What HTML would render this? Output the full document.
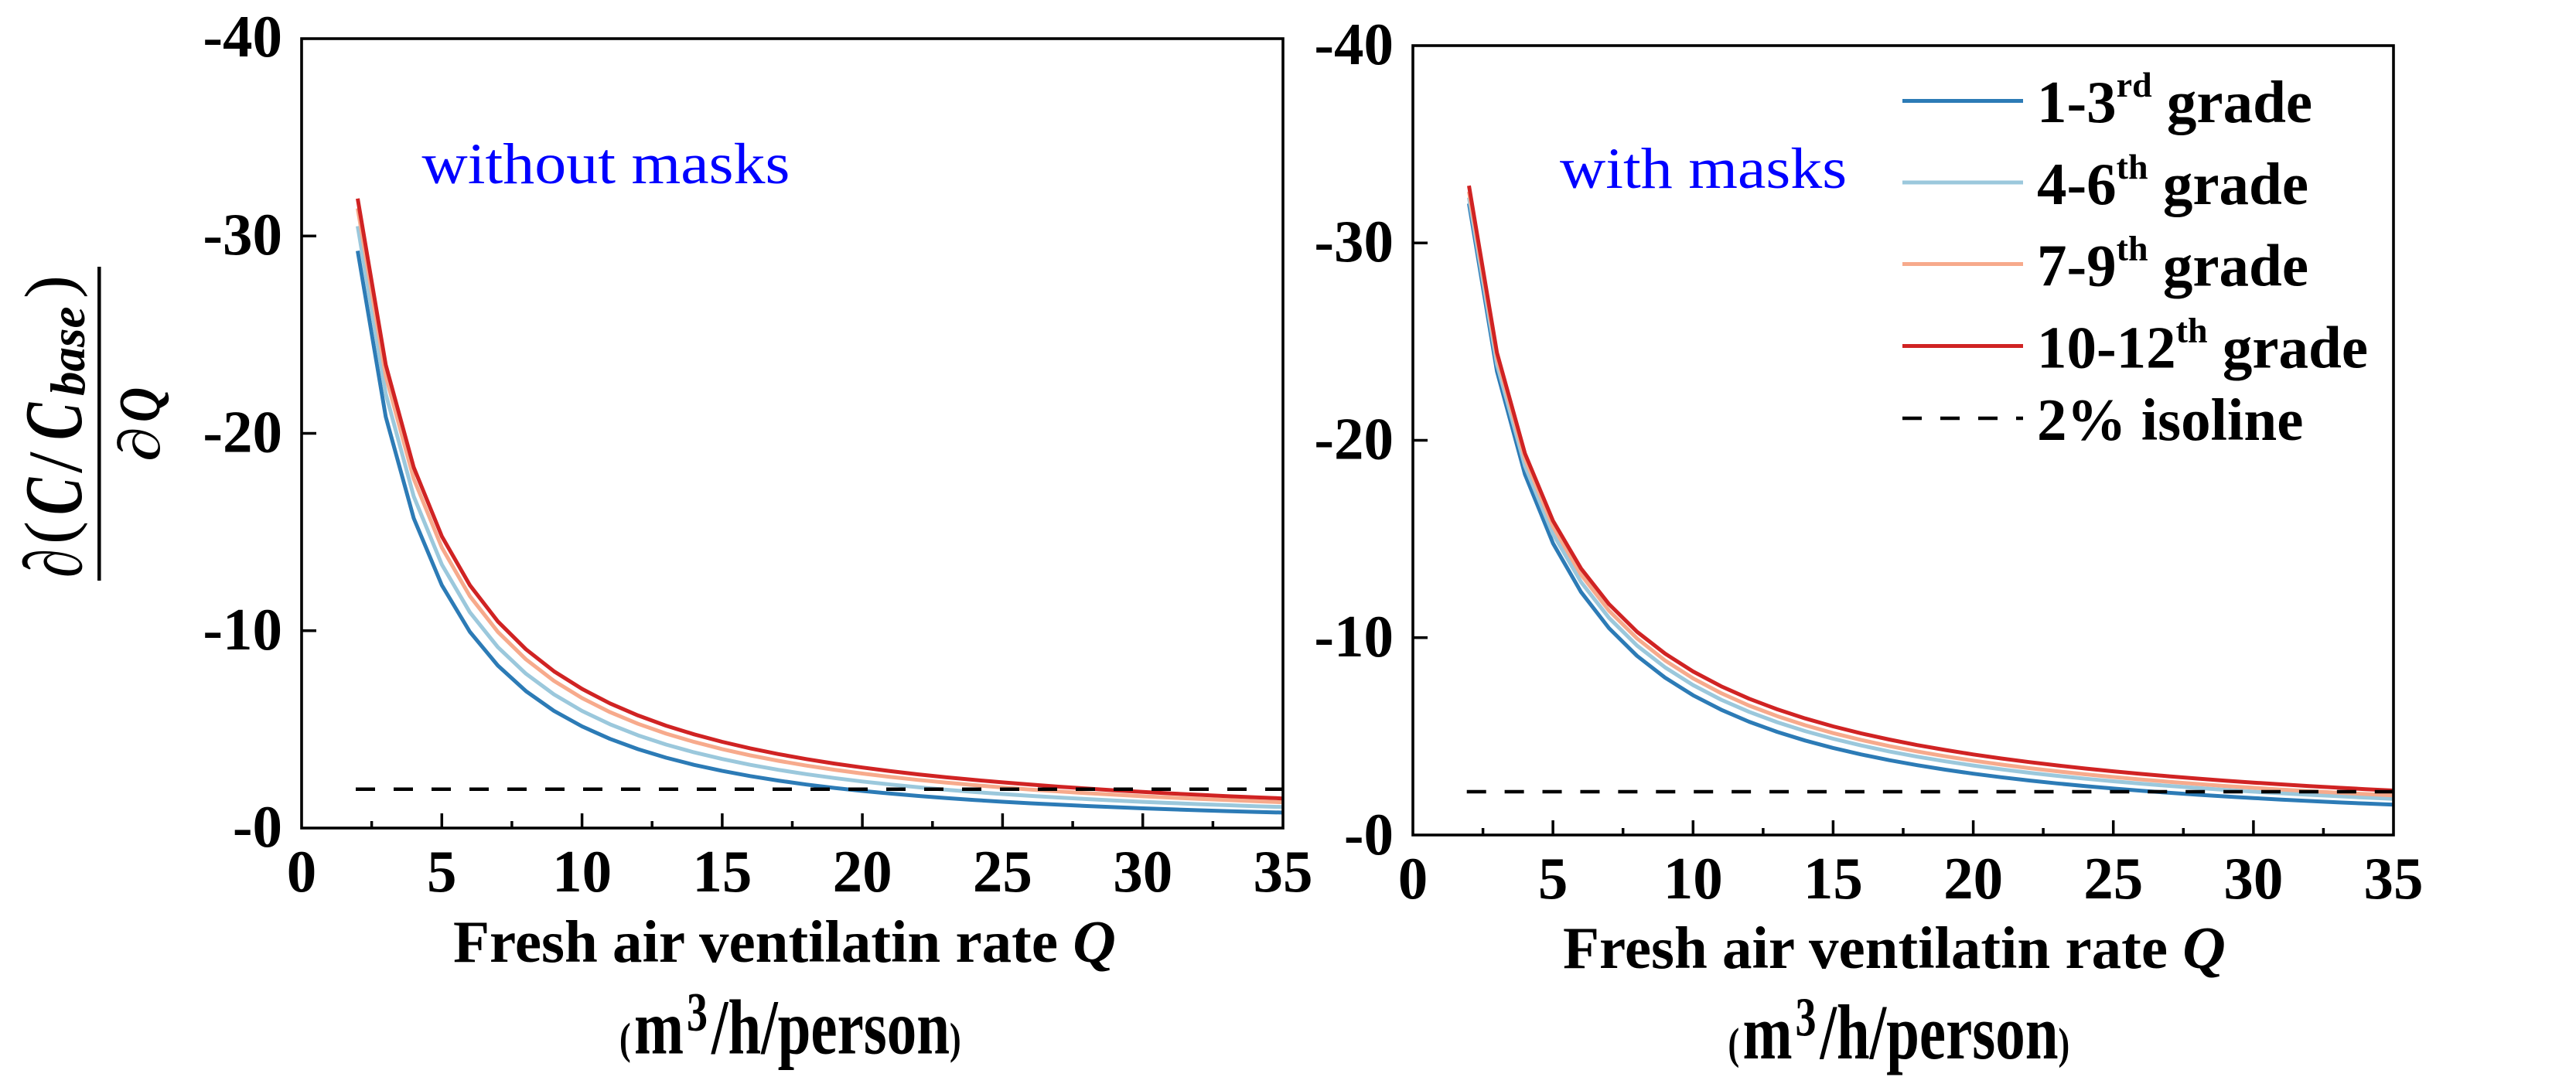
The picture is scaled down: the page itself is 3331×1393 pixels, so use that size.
<!DOCTYPE html>
<html>
<head>
<meta charset="utf-8">
<style>
html,body{margin:0;padding:0;background:#fff;overflow:hidden;}
svg{display:block;}
text{font-family:"Liberation Serif","DejaVu Serif",serif;}
</style>
</head>
<body>
<svg id="chart" xmlns="http://www.w3.org/2000/svg" width="3331" height="1393" viewBox="0 0 3331 1393">
<rect x="0" y="0" width="3331" height="1393" fill="#fff"/>

<!-- ===== LEFT PLOT ===== -->
<g id="leftCurves" fill="none" stroke-width="5" stroke-linejoin="round">
  <path id="lb" stroke="#2c7bb6"/>
  <path id="llb" stroke="#9bc8dc"/>
  <path id="ls" stroke="#f7aa8c"/>
  <path id="lr" stroke="#d02323"/>
</g>
<line x1="460" y1="1020.7" x2="1659" y2="1020.7" stroke="#000" stroke-width="4.5" stroke-dasharray="25 24"/>
<rect x="390" y="50" width="1269" height="1021" fill="none" stroke="#000" stroke-width="3.6"/>
<g stroke="#000" stroke-width="3.5">
  <line x1="571.3" y1="1071" x2="571.3" y2="1052"/>
  <line x1="752.6" y1="1071" x2="752.6" y2="1052"/>
  <line x1="933.9" y1="1071" x2="933.9" y2="1052"/>
  <line x1="1115.1" y1="1071" x2="1115.1" y2="1052"/>
  <line x1="1296.4" y1="1071" x2="1296.4" y2="1052"/>
  <line x1="1477.7" y1="1071" x2="1477.7" y2="1052"/>
  <line x1="480.6" y1="1071" x2="480.6" y2="1062"/>
  <line x1="661.9" y1="1071" x2="661.9" y2="1062"/>
  <line x1="843.2" y1="1071" x2="843.2" y2="1062"/>
  <line x1="1024.5" y1="1071" x2="1024.5" y2="1062"/>
  <line x1="1205.8" y1="1071" x2="1205.8" y2="1062"/>
  <line x1="1387.1" y1="1071" x2="1387.1" y2="1062"/>
  <line x1="1568.4" y1="1071" x2="1568.4" y2="1062"/>
  <line x1="390" y1="305.25" x2="409" y2="305.25"/>
  <line x1="390" y1="560.5" x2="409" y2="560.5"/>
  <line x1="390" y1="815.75" x2="409" y2="815.75"/>
</g>
<g font-size="77" font-weight="bold" text-anchor="end" fill="#000">
  <text x="365" y="73">-40</text>
  <text x="365" y="329">-30</text>
  <text x="365" y="584.5">-20</text>
  <text x="365" y="840">-10</text>
  <text x="365" y="1095">-0</text>
</g>
<g font-size="77" font-weight="bold" text-anchor="middle" fill="#000">
  <text x="390" y="1153">0</text>
  <text x="571.3" y="1153">5</text>
  <text x="752.6" y="1153">10</text>
  <text x="933.9" y="1153">15</text>
  <text x="1115.1" y="1153">20</text>
  <text x="1296.4" y="1153">25</text>
  <text x="1477.7" y="1153">30</text>
  <text x="1659" y="1153">35</text>
</g>
<text x="586" y="1244" font-size="77" font-weight="bold">Fresh air ventilatin rate <tspan font-style="italic">Q</tspan></text>
<text transform="translate(0,1362.7) scale(1,1.31)" font-size="77" font-weight="bold"><tspan x="801" font-size="44">(</tspan><tspan x="820">m</tspan><tspan x="888" font-size="54" dy="-22.7">3</tspan><tspan x="920" dy="22.7">/h/person</tspan><tspan font-size="44">)</tspan></text>
<text transform="translate(545.5,237) scale(1,0.92)" font-size="82" fill="#0000ff">without masks</text>

<!-- Y label (rotated fraction) -->
<g fill="#000">
  <text transform="translate(105,747) rotate(-90) scale(0.71,1)" font-size="106" font-weight="bold">∂</text>
  <text transform="translate(94,704) rotate(-90)" font-size="90">(</text>
  <text transform="translate(105,666) rotate(-90) scale(0.68,1)" font-size="106" font-weight="bold" font-style="italic">C</text>
  <text transform="translate(105,612) rotate(-90)" font-size="100">/</text>
  <text transform="translate(105,569) rotate(-90) scale(0.68,1)" font-size="106" font-weight="bold" font-style="italic">C</text>
  <text transform="translate(109,512) rotate(-90)" font-size="63" font-weight="bold" font-style="italic">base</text>
  <text transform="translate(94,386) rotate(-90)" font-size="90">)</text>
  <line x1="128.3" y1="345" x2="128.3" y2="751" stroke="#000" stroke-width="4.5"/>
  <text transform="translate(206,597) rotate(-90) scale(1.2,1)" font-size="76" font-weight="bold">∂</text>
  <text transform="translate(206,546) rotate(-90) scale(0.82,1)" font-size="76" font-weight="bold" font-style="italic">Q</text>
</g>

<!-- ===== RIGHT PLOT ===== -->
<g id="rightCurves" fill="none" stroke-width="5" stroke-linejoin="round">
  <path id="rb" stroke="#2c7bb6"/>
  <path id="rlb" stroke="#9bc8dc"/>
  <path id="rs" stroke="#f7aa8c"/>
  <path id="rr" stroke="#d02323"/>
</g>
<line x1="1896.7" y1="1024" x2="3095" y2="1024" stroke="#000" stroke-width="4.5" stroke-dasharray="25 23.92"/>
<rect x="1827" y="59" width="1268" height="1021" fill="none" stroke="#000" stroke-width="3.6"/>
<g stroke="#000" stroke-width="3.5">
  <line x1="2008.1" y1="1080" x2="2008.1" y2="1061"/>
  <line x1="2189.3" y1="1080" x2="2189.3" y2="1061"/>
  <line x1="2370.4" y1="1080" x2="2370.4" y2="1061"/>
  <line x1="2551.6" y1="1080" x2="2551.6" y2="1061"/>
  <line x1="2732.7" y1="1080" x2="2732.7" y2="1061"/>
  <line x1="2913.9" y1="1080" x2="2913.9" y2="1061"/>
  <line x1="1917.6" y1="1080" x2="1917.6" y2="1071"/>
  <line x1="2098.7" y1="1080" x2="2098.7" y2="1071"/>
  <line x1="2279.9" y1="1080" x2="2279.9" y2="1071"/>
  <line x1="2461.0" y1="1080" x2="2461.0" y2="1071"/>
  <line x1="2642.1" y1="1080" x2="2642.1" y2="1071"/>
  <line x1="2823.3" y1="1080" x2="2823.3" y2="1071"/>
  <line x1="3004.4" y1="1080" x2="3004.4" y2="1071"/>
  <line x1="1827" y1="314.25" x2="1846" y2="314.25"/>
  <line x1="1827" y1="569.5" x2="1846" y2="569.5"/>
  <line x1="1827" y1="824.75" x2="1846" y2="824.75"/>
</g>
<g font-size="77" font-weight="bold" text-anchor="end" fill="#000">
  <text x="1802" y="83">-40</text>
  <text x="1802" y="338">-30</text>
  <text x="1802" y="593.5">-20</text>
  <text x="1802" y="849">-10</text>
  <text x="1802" y="1105">-0</text>
</g>
<g font-size="77" font-weight="bold" text-anchor="middle" fill="#000">
  <text x="1827" y="1162">0</text>
  <text x="2008.1" y="1162">5</text>
  <text x="2189.3" y="1162">10</text>
  <text x="2370.4" y="1162">15</text>
  <text x="2551.6" y="1162">20</text>
  <text x="2732.7" y="1162">25</text>
  <text x="2913.9" y="1162">30</text>
  <text x="3095" y="1162">35</text>
</g>
<text x="2021" y="1252" font-size="77" font-weight="bold">Fresh air ventilatin rate <tspan font-style="italic">Q</tspan></text>
<text transform="translate(0,1369) scale(1,1.31)" font-size="77" font-weight="bold"><tspan x="2234.5" font-size="44">(</tspan><tspan x="2253.5">m</tspan><tspan x="2321.5" font-size="54" dy="-22.7">3</tspan><tspan x="2353.5" dy="22.7">/h/person</tspan><tspan font-size="44">)</tspan></text>
<text transform="translate(2017,243) scale(1,0.92)" font-size="82" fill="#0000ff">with masks</text>

<!-- Legend -->
<g stroke-width="5">
  <line x1="2460" y1="130.5" x2="2616" y2="130.5" stroke="#2c7bb6"/>
  <line x1="2460" y1="236" x2="2616" y2="236" stroke="#9bc8dc"/>
  <line x1="2460" y1="341.5" x2="2616" y2="341.5" stroke="#f7aa8c"/>
  <line x1="2460" y1="447.5" x2="2616" y2="447.5" stroke="#d02323"/>
  <line x1="2460" y1="541" x2="2616" y2="541" stroke="#000" stroke-width="4.5" stroke-dasharray="25 24"/>
</g>
<g font-size="77" font-weight="bold" fill="#000">
  <text x="2634" y="158">1-3<tspan font-size="46" dy="-33">rd</tspan><tspan dy="33"> grade</tspan></text>
  <text x="2634" y="264">4-6<tspan font-size="46" dy="-33">th</tspan><tspan dy="33"> grade</tspan></text>
  <text x="2634" y="369.5">7-9<tspan font-size="46" dy="-33">th</tspan><tspan dy="33"> grade</tspan></text>
  <text x="2634" y="475.5">10-12<tspan font-size="46" dy="-33">th</tspan><tspan dy="33"> grade</tspan></text>
  <text x="2634" y="569">2% isoline</text>
</g>
</svg>

<script>
(function(){
  function mk(x0,y0,sx,sy,f2,lam,p){
    var d='';
    for(var q=2;q<=35;q++){
      var v=f2*Math.pow((2+lam)/(q+lam),p);
      var x=x0+q*sx, y=y0-v*sy;
      d+=(q===2?'M':'L')+x.toFixed(1)+' '+y.toFixed(1)+' ';
    }
    return d;
  }
  var L={x0:390,y0:1071,sx:36.257,sy:25.525};
  var R={x0:1827,y0:1080,sx:36.229,sy:25.525};
  function set(id,P,f2,lam,p){document.getElementById(id).setAttribute('d',mk(P.x0,P.y0,P.sx,P.sy,f2,lam,p));}
  set('lr',L,31.9,2.0,1.374);
  set('ls',L,31.4,2.1,1.443);
  set('llb',L,30.5,2.25,1.546);
  set('lb',L,29.25,2.6,1.7236);
  set('rr',R,32.9,1.27,1.1144);
  set('rs',R,32.6,1.52,1.1916);
  set('rlb',R,32.3,1.6,1.237);
  set('rb',R,32.0,1.88,1.348);
})();
</script>
</body>
</html>
